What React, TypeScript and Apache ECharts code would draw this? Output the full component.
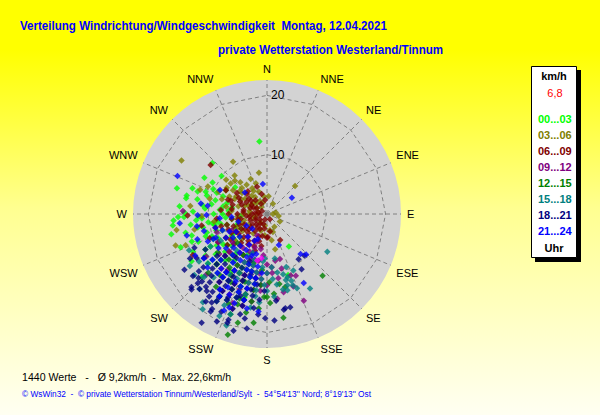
import { useEffect, useRef } from "react";
import * as echarts from "echarts";

const directions = ["N", "NNE", "NE", "ENE", "E", "ESE", "SE", "SSE", "S", "SSW", "SW", "WSW", "W", "WNW", "NW", "NNW"];
const speedTicks = [10, 20];
const speedMax = 22.6;
const timeBuckets = ["00...03", "03...06", "06...09", "09...12", "12...15", "15...18", "18...21", "21...24"];
const bucketColors = ["#00ff00", "#808000", "#800000", "#800080", "#008000", "#008080", "#000080", "#0000ff"];

// [speed km/h, direction deg]
const h00_03 = [
  [12.3, 354], [12.6, 313], [15.8, 286], [13.9, 281], [15.8, 266], [15.6, 249], [14.1, 257], [13.3, 289], [12.2, 300], [10.6, 300],
  [12.3, 288], [13.9, 283], [10.6, 287], [9.2, 293], [13.9, 271], [12.5, 272], [11.0, 266], [11.9, 259], [10.6, 253], [9.3, 260],
  [13.2, 254], [9.2, 244], [9.5, 215], [14.5, 195], [15.3, 226], [6.6, 146], [10.9, 161], [8, 250], [7, 255], [6, 262],
  [8.5, 262], [7.5, 270], [6.5, 240], [5.5, 250], [9, 235], [8, 228], [7, 232], [10, 238], [11, 232], [12, 240],
  [10, 248], [8, 275], [9.5, 280], [11, 278], [7, 285], [9, 270], [12, 265], [11, 250], [6, 230], [5, 240],
  [10.5, 222], [12, 225], [13, 230], [8.5, 218], [11.5, 212], [13, 215], [7.5, 205], [12, 200], [10, 205], [14, 243],
  [15, 238], [16.5, 258], [16, 263], [8, 300], [7, 310], [10, 310], [14.8, 275], [15, 268],
  [7, 265], [8, 258], [9, 252], [10, 245], [11, 240], [6.5, 275], [7.5, 280], [9, 285], [10.5, 275], [11.5, 268],
  [12.5, 248], [13.5, 250], [6, 245], [7, 238], [8.5, 232], [9.5, 228], [5, 255], [4.5, 265], [6, 280], [8, 292],
  [10, 295], [11, 290], [13, 262], [14, 268], [12, 282], [9, 258], [10, 262], [8, 240], [11, 258], [12.5, 236],
];
const h03_06 = [
  [17, 302], [10.5, 327], [7.1, 349], [6.7, 45], [8.1, 303], [7.8, 316], [6.1, 316], [3.2, 162], [6.1, 167], [15.5, 260],
  [16.3, 251], [14.7, 249], [2, 300], [3, 310], [2.5, 330], [4, 320], [3.5, 295], [4.5, 305], [5, 330], [1.5, 280],
  [3, 280], [4, 270], [5, 285], [6, 295], [5.5, 310], [6, 325], [4, 340], [3, 350], [2, 340], [6.5, 335],
  [7, 305], [5, 265], [6, 275], [7, 280], [8, 288], [9, 295], [2.5, 255], [3.5, 240], [1.8, 220], [4.5, 250],
  [5.5, 245], [10, 285], [11, 295], [12, 290], [9, 262], [13, 276], [11, 268], [8, 310], [3, 5], [2, 30],
  [3, 200], [2, 190], [4, 215], [6, 225], [7, 230], [2.5, 150], [4.5, 170], [12.5, 258], [2.8, 170], [1, 90],
  [3.6, 186], [1.5, 80], [2.5, 120], [2, 100],
  [3, 300], [4, 290], [5, 300], [6, 310], [7, 320], [4.5, 330], [5.5, 340], [3.5, 325], [2.5, 315], [6, 300],
  [7, 295], [8, 300], [9, 310], [8.5, 320], [3, 270], [4, 255], [2, 260], [5, 235], [6, 240], [1.5, 320],
];
const h06_09 = [
  [12.6, 311], [4.9, 153], [3.9, 178], [14.3, 241], [4.9, 340], [2.4, 352], [13.4, 269], [11.2, 260], [10.5, 247], [9, 255],
  [1, 200], [1.5, 230], [2, 250], [2.5, 270], [3, 290], [3.5, 310], [4, 300], [4, 280], [4.5, 260], [5, 240],
  [5.5, 225], [6, 250], [5, 270], [6, 285], [5.5, 300], [3, 235], [2, 215], [3.5, 215], [4, 200], [5, 205],
  [6, 212], [7, 220], [7.5, 235], [7, 255], [6.5, 270], [7, 290], [3, 320], [2, 330], [1.5, 280], [2.5, 190],
  [4, 180], [5.5, 190], [6.5, 198], [3, 170], [1, 150], [4.5, 225], [5, 250], [6, 262], [2, 300], [3.5, 345],
  [5, 320], [8, 240], [8.5, 265], [9, 225], [8, 210], [3, 260], [4.2, 245], [2.2, 240], [1.2, 260], [5.8, 235],
  [6.8, 242], [7.8, 275], [2.8, 205], [4.8, 315], [6.2, 305], [8, 300],
  [3, 250], [3.5, 265], [4, 275], [4.5, 290], [5, 295], [2.5, 225], [3.5, 230], [4.5, 235], [5.5, 215], [6.5, 222],
  [7.5, 228], [6, 240], [7, 248], [8, 255], [5, 260], [4, 230], [2, 275], [3, 300], [4, 310], [6, 278],
  [6.5, 290], [1.8, 200], [2.8, 215], [3.8, 192], [4.8, 196], [5.8, 202], [8.5, 232], [9.5, 240], [1, 300], [2.5, 295],
];
const h09_12 = [
  [15.9, 157], [13, 160], [7.9, 164], [14.4, 173], [14.2, 272], [10.1, 187], [16.1, 201], [11.1, 159], [13.5, 168], [11.5, 155],
  [6, 210], [7, 200], [8, 195], [9, 205], [10, 210], [11, 200], [12, 195], [8, 215], [9, 225], [10, 190],
  [11, 185], [12, 180], [13, 190], [14, 195], [7, 185], [6, 190], [5, 200], [9.5, 240], [10.5, 230], [12, 220],
  [13, 210], [15, 205], [16, 195], [13.5, 200], [8.5, 180], [10, 175], [11, 170], [7.5, 230], [11.5, 215], [14, 215],
  [12.5, 235], [6.5, 245], [9, 250], [5, 220], [4, 205], [15, 190], [17, 200], [14.5, 225], [8, 170], [9.5, 165],
  [7, 205], [8, 200], [9, 195], [10, 200], [11, 205], [12, 210], [13, 205], [10, 180], [9, 175], [12, 185],
  [13, 185], [8, 190], [11, 190], [14, 200], [15, 210], [6, 200], [7, 215], [9, 218], [10, 225], [12, 200],
];
const h12_15 = [
  [14, 138], [21.4, 198], [18.5, 187], [17.7, 171], [12.7, 166], [10, 195], [11, 205], [12, 210], [13, 200], [14, 205],
  [15, 198], [16, 210], [12, 185], [13, 190], [14, 182], [11, 215], [9, 200], [8, 210], [10, 220], [12, 225],
  [15, 215], [16.5, 203], [17, 192], [13.5, 175], [11.5, 178], [9.5, 185], [18, 200], [14, 225], [10.5, 232], [7, 225],
  [16, 185], [19, 195], [15, 178], [12, 170], [8.5, 195],
  [11, 195], [12, 198], [13, 208], [14, 195], [15, 190], [10, 210], [9, 220], [11, 225], [13, 218], [12, 190],
  [14, 180], [16, 198],
];
const h15_18 = [
  [12, 122], [18.4, 216], [19.4, 214], [15.7, 236], [7.5, 183], [7.6, 170], [11.2, 162], [12.8, 160], [10.5, 155], [13.5, 158],
  [14.5, 150], [9.5, 160], [11.6, 164], [12.5, 164], [13.3, 165], [10, 200], [11, 195], [12, 205], [13, 210], [14, 200],
  [15, 195], [16, 205], [17, 210], [13, 220], [12, 230], [11, 240], [14, 235], [15, 225], [10, 215], [9, 205],
  [8, 195], [9, 185], [10, 180], [11, 175], [12, 172], [13, 180], [14, 188], [16, 190], [18, 200], [17, 222],
  [16, 230], [19, 205], [14.5, 245], [8, 220], [9, 240], [12, 160], [13, 168], [10.5, 165], [7, 200], [20, 200],
  [9, 195], [10, 190], [11, 185], [12, 182], [13, 188], [14, 195], [15, 200], [16, 210], [11, 205], [12, 212],
  [13, 200], [10, 170], [9, 175], [8, 185], [14, 175], [15, 185], [12, 195], [13, 230], [14, 220], [17, 205],
];
const h18_21 = [
  [19.6, 190], [19.5, 200], [21.4, 211], [18, 176], [17.6, 181], [16.2, 169], [16.2, 166], [14.7, 174], [9.4, 138], [11, 148],
  [9.3, 145], [16.4, 170], [17.7, 226], [16.5, 225], [17, 222], [15.8, 227], [17.6, 212], [16.2, 210], [15, 212], [15.8, 224],
  [16.3, 230], [16.8, 236], [16.5, 218], [17, 215], [18.2, 205], [18.5, 210], [20.5, 196], [20, 205], [10, 205], [11, 210],
  [12, 200], [13, 195], [14, 190], [15, 200], [12, 215], [13, 225], [14, 230], [11, 230], [12, 240], [13.5, 245],
  [14, 210], [15.5, 205], [16, 195], [17, 200], [18, 192], [14.5, 185], [13, 182], [12, 188], [9, 215], [10, 225],
  [11, 220], [16, 215], [15, 220], [17.5, 195], [10.5, 195], [8.5, 200], [13, 205], [14.5, 198], [11, 190],
  [13, 210], [14, 215], [15, 210], [16, 220], [14, 222], [13, 235], [15, 230], [12, 225], [17, 210], [18, 215],
  [16, 205], [15, 195], [14, 205], [13, 215], [12, 208], [11, 200], [15, 240], [14, 238], [18, 225], [19, 210],
  [13, 192], [16, 188], [17, 185], [19, 200],
];
const h21_24 = [
  [16.4, 293], [11.3, 279], [14.8, 264], [8.9, 297], [5.1, 352], [5, 57], [9.5, 136], [8.8, 140], [5.6, 159], [13.2, 152],
  [16.3, 192], [17.8, 204], [17, 202], [16.5, 185], [10.1, 278], [10.2, 269], [11.7, 269], [5.2, 314], [6, 230], [7, 220],
  [8, 225], [9, 230], [10, 235], [11, 225], [12, 220], [13, 215], [7, 245], [8, 250], [9, 210], [10, 200],
  [11, 195], [12, 190], [13, 200], [14, 208], [15, 212], [6, 210], [5, 220], [4, 240], [5, 255], [6, 265],
  [8, 240], [9.5, 245], [11, 245], [12.5, 250], [14, 255], [7.5, 200], [9, 190], [10, 185], [12.5, 205], [15, 195],
  [16, 200], [4.5, 200], [3.5, 225], [8, 265], [14, 240], [13.5, 228],
  [7, 210], [8, 215], [9, 220], [10, 215], [11, 210], [12, 230], [13, 235], [10, 245], [9, 255], [11, 255],
  [12, 260], [8, 205], [9, 200], [10, 195], [11, 190], [13, 195], [14, 200], [12, 215], [6, 240], [7, 235],
  [15, 205], [16, 210], [13, 220], [7, 195], [5, 205],
];
const currentPoints = [[8, 192], [7.5, 187]];

const bucketData = [h00_03, h03_06, h06_09, h09_12, h12_15, h15_18, h18_21, h21_24];

const titleText = "Verteilung Windrichtung/Windgeschwindigkeit  Montag, 12.04.2021";
const subtitleText = "private Wetterstation Westerland/Tinnum";
const statsText = "1440 Werte   -   Ø 9,2km/h  -  Max. 22,6km/h";
const footerText = "© WsWin32  -  © private Wetterstation Tinnum/Westerland/Sylt  -  54°54'13'' Nord; 8°19'13'' Ost";
const unitText = "km/h";
const currentText = "6,8";
const hourText = "Uhr";

const FONT = '"Liberation Sans", Arial, sans-serif';
const GRID = { color: "#808080", width: 1, type: [4, 3] };

function ring(r: number) {
  const pts = directions.map((_, i) => [r, i * 22.5]);
  pts.push([r, 360]);
  return pts;
}

export default function App() {
  const ref = useRef<HTMLDivElement>(null);
  useEffect(() => {
    if (!ref.current) return;
    const chart = echarts.init(ref.current, undefined, { renderer: "svg" });
    const ringSeries = speedTicks.map((r) => ({
      type: "line",
      coordinateSystem: "polar",
      data: ring(r),
      symbol: "none",
      silent: true,
      z: 1,
      lineStyle: GRID,
    }));
    const spokeSeries = directions.map((_, i) => ({
      type: "line",
      coordinateSystem: "polar",
      data: [[0, i * 22.5], [speedMax, i * 22.5]],
      symbol: "none",
      silent: true,
      z: 1,
      lineStyle: GRID,
    }));
    const scatterSeries = bucketData.map((d, i) => ({
      name: timeBuckets[i],
      type: "scatter",
      coordinateSystem: "polar",
      data: d,
      symbol: "diamond",
      symbolSize: 6.5,
      itemStyle: { color: bucketColors[i] },
      z: 3,
    }));
    chart.setOption({
      animation: false,
      backgroundColor: "transparent",
      polar: { center: [267, 214], radius: 134 },
      angleAxis: {
        type: "value",
        min: 0,
        max: 360,
        interval: 22.5,
        startAngle: 90,
        clockwise: true,
        axisLine: { show: false },
        axisTick: { show: false },
        axisLabel: {
          margin: 6,
          color: "#000",
          fontSize: 11,
          fontFamily: FONT,
          formatter: (v: number) => (v >= 360 ? "" : directions[Math.round(v / 22.5) % 16]),
        },
        splitLine: { show: false },
        splitArea: { show: true, areaStyle: { color: ["#d3d3d3"] } },
      },
      radiusAxis: {
        type: "value",
        min: 0,
        max: speedMax,
        interval: 10,
        axisLine: { show: false },
        axisTick: { show: false },
        splitLine: { show: false },
        axisLabel: {
          margin: -4,
          align: "left",
          color: "#000",
          fontSize: 12,
          fontFamily: FONT,
          formatter: (v: number) => (speedTicks.includes(v) ? String(v) : ""),
        },
        z: 5,
      },
      legend: {
        orient: "vertical",
        left: 533,
        top: 113,
        padding: 0,
        itemGap: 4,
        itemWidth: 0,
        itemHeight: 12,
        selectedMode: false,
        itemStyle: { opacity: 0 },
        textStyle: { fontSize: 11, fontWeight: "bold", fontFamily: FONT },
        data: timeBuckets.map((n, i) => ({ name: n, icon: "rect", textStyle: { color: bucketColors[i] } })),
        z: 10,
      },
      graphic: [
        { type: "text", x: 20, y: 25, scaleX: 0.965, style: { text: titleText, fill: "#0000ff", font: `bold 12px ${FONT}`, verticalAlign: "middle" } },
        { type: "text", x: 218, y: 49, scaleX: 0.966, style: { text: subtitleText, fill: "#0000ff", font: `bold 12px ${FONT}`, verticalAlign: "middle" } },
        { type: "rect", shape: { x: 535, y: 70, width: 46, height: 192 }, style: { fill: "#000" }, z: 0 },
        { type: "rect", shape: { x: 531.5, y: 66.5, width: 45, height: 191 }, style: { fill: "#fff", stroke: "#000", lineWidth: 1 }, z: 1 },
        { type: "text", x: 554, y: 76, z: 7, style: { text: unitText, fill: "#000", font: `bold 11px ${FONT}`, align: "center", verticalAlign: "middle" } },
        { type: "text", x: 555, y: 93, z: 7, style: { text: currentText, fill: "#ff0000", font: `11px ${FONT}`, align: "center", verticalAlign: "middle" } },
        { type: "text", x: 554, y: 248, z: 7, style: { text: hourText, fill: "#000", font: `bold 11px ${FONT}`, align: "center", verticalAlign: "middle" } },
        { type: "text", x: 22, y: 377, scaleX: 0.963, style: { text: statsText, fill: "#000", font: `11px ${FONT}`, verticalAlign: "middle" } },
        { type: "text", x: 22, y: 394, style: { text: footerText, fill: "#0000ff", font: `8.3px ${FONT}`, verticalAlign: "middle" } },
      ],
      series: [
        ...ringSeries,
        ...spokeSeries,
        ...scatterSeries,
        {
          name: "aktuell",
          type: "scatter",
          coordinateSystem: "polar",
          data: currentPoints,
          symbol: "diamond",
          symbolSize: 6.5,
          itemStyle: { color: "#ff00ff" },
          z: 4,
        },
      ],
    });
    return () => chart.dispose();
  }, []);
  return (
    <div
      ref={ref}
      style={{
        position: "fixed",
        left: 0,
        top: 0,
        width: 600,
        height: 415,
        background: "linear-gradient(to bottom, #ffff00 0%, #ffff00 12%, #ffff90 50%, #fffff2 100%)",
      }}
    />
  );
}
